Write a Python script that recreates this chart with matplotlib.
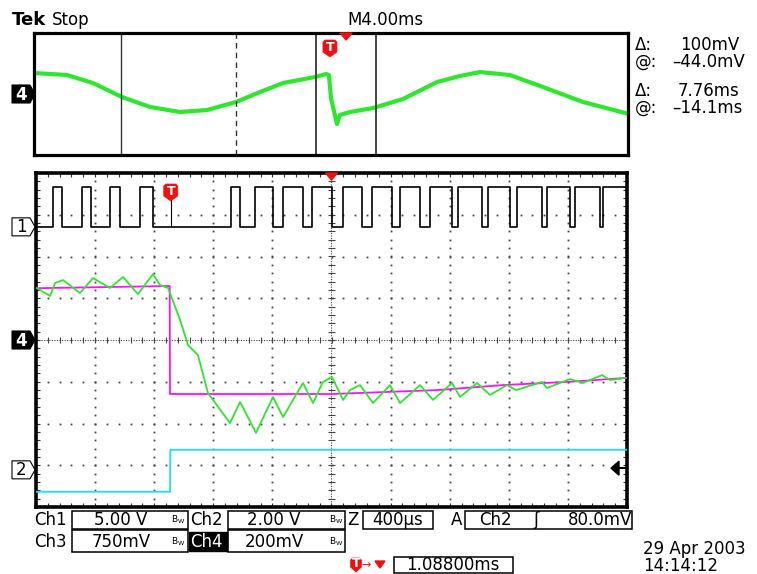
import numpy as np
import matplotlib
matplotlib.use('Agg')
import matplotlib.pyplot as plt
from matplotlib.patches import Polygon, Rectangle

W, H = 757, 574

# ---- scope settings ----
main_us = (-2000, 2000)          # zoomed window, µs (10 div x 400 µs)
record_ms = (-19.93, 20.07)      # full record, ms (10 div x 4 ms)
t_trig = -1088.0                 # trigger position in zoom window, µs
ch_vdiv = {'ch1': 5.0, 'ch2': 2.0, 'ch3': 0.75, 'ch4': 0.2}
ch_pos = {'ch1': 2.71, 'ch2': -3.11, 'ch3': 0.0, 'ch4': 0.0}   # ground, divisions
trig_level = 0.080               # V on ch2
cursor_t = -14.1                 # ms
cursor_dt = 7.76                 # ms

# ---- ch1: pulse train (µs) ----
ch1_rise = [-1885, -1690, -1500, -1295, -680, -520, -330, -130, 80, 275,
            465, 665, 855, 1060, 1255, 1460, 1650, 1840]
ch1_fall = [-1825, -1630, -1430, -1210, -620, -395, -195, 0, 205, 410,
            600, 815, 1020, 1210, 1425, 1615, 1815, 2050]
ch1_high = 4.8

# ---- ch2: step (µs, V) ----
ch2_t = [-2000, -1093, -1091, 2000]
ch2_v = [-1.05, -1.05, 0.96, 0.96]

# ---- ch3: step (µs, V) ----
ch3_t = [-2000, -1095, -1093, 0, 715, 1160, 1615, 2000]
ch3_v = [0.93, 0.97, -0.97, -0.97, -0.90, -0.81, -0.75, -0.68]

# ---- ch4: response (µs, mV) ----
ch4_t = [-1995, -1905, -1871, -1817, -1702, -1614, -1499, -1411, -1310, -1208,
         -1161, -1106, -1025, -971, -904, -836, -687, -619, -511, -396,
         -328, -193, -125, -58, 3, 78, 125, 193, 281, 396,
         464, 599, 687, 816, 870, 985, 1073, 1188, 1249, 1425,
         1458, 1614, 1702, 1831, 1885, 1986]
ch4_mv = [249, 211, 273, 287, 225, 297, 249, 302, 220, 316,
          263, 249, 96, -24, -72, -254, -398, -297, -445, -273,
          -369, -206, -302, -201, -177, -287, -240, -216, -302, -216,
          -302, -216, -287, -206, -273, -206, -263, -216, -240, -201,
          -230, -187, -206, -168, -192, -182]

# ---- ch4 full record (ms, mV) ----
rec_t = [-19.9, -17.71, -15.96, -14.01, -12.12, -10.10, -8.28, -6.33, -4.71, -3.16,
         -1.01, -0.27, -0.07, 0.07, 0.47, 0.67, 1.35, 2.90, 4.92, 7.21,
         8.75, 10.10, 12.12, 14.34, 17.04, 20.0]
rec_mv = [275, 249, 144, -39, -170, -236, -210, -105, 26, 144,
          223, 262, 249, -52, -393, -275, -236, -184, -66, 157,
          236, 288, 249, 92, -105, -255]

GREEN = '#2fe62f'
MAGENTA = '#ff10ff'
CYAN = '#20e0ec'
RED = '#ee1111'

MAIN = (36, 173, 627, 507)
TOP = (34, 33, 628, 155)


def rect(x0, y0, x1, y1):
    return [x0 / W, 1 - y1 / H, (x1 - x0) / W, (y1 - y0) / H]


def main_px(xd, yd):
    x0, y0, x1, y1 = MAIN
    return x0 + (xd + 5) / 10 * (x1 - x0), (y0 + y1) / 2 - yd / 8 * (y1 - y0)


def top_px(t_ms):
    x0, y0, x1, y1 = TOP
    return x0 + (t_ms - record_ms[0]) / (record_ms[1] - record_ms[0]) * (x1 - x0)


fig = plt.figure(figsize=(W / 100, H / 100), dpi=100)
fig.patch.set_facecolor('white')

# ---------------- main graticule ----------------
ax = fig.add_axes(rect(*MAIN))
ax.set_xlim(-5, 5)
ax.set_ylim(-4, 4)
for s in ax.spines.values():
    s.set_linewidth(2.6)
ax.set_xticks(np.arange(-5, 6, 1))
ax.set_yticks(np.arange(-4, 5, 1))
ax.set_xticks(np.arange(-5, 5.01, 0.2), minor=True)
ax.set_yticks(np.arange(-4, 4.01, 0.2), minor=True)
ax.tick_params(which='both', direction='in', length=3, width=0.8,
               top=True, right=True, labelbottom=False, labelleft=False,
               color='#333')

minor_y = np.arange(-4, 4.01, 0.2)
minor_x = np.arange(-5, 5.01, 0.2)
for xv in range(-4, 5):
    if xv == 0:
        continue
    ax.plot(np.full_like(minor_y, xv), minor_y, ls='none', marker='s',
            ms=1.3, mew=0, color='#444')
for yv in range(-3, 4):
    if yv == 0:
        continue
    ax.plot(minor_x, np.full_like(minor_x, yv), ls='none', marker='s',
            ms=1.3, mew=0, color='#444')
ax.axvline(0, color='#444', lw=0.8, ls=(0, (1, 1.3)))
ax.axhline(0, color='#444', lw=0.8, ls=(0, (1, 1.3)))
ax.hlines(minor_y, -0.06, 0.06, color='#444', lw=0.8)
ax.vlines(minor_x, -0.08, 0.08, color='#444', lw=0.8)


def chan_axes(name):
    a = fig.add_axes(rect(*MAIN), frameon=False)
    a.set_xlim(*main_us)
    p, s = ch_pos[name], ch_vdiv[name]
    a.set_ylim((-4 - p) * s, (4 - p) * s)
    a.set_axis_off()
    return a


# ch1 square wave
t1, v1 = [main_us[0]], [0.0]
for r, f in zip(ch1_rise, ch1_fall):
    t1 += [r, r, f, f]
    v1 += [0.0, ch1_high, ch1_high, 0.0]
a1 = chan_axes('ch1')
a1.plot(t1, v1, color='black', lw=1.2)

a2 = chan_axes('ch2')
a2.plot(ch2_t, ch2_v, color=CYAN, lw=1.3)

a3 = chan_axes('ch3')
a3.plot(ch3_t, ch3_v, color=MAGENTA, lw=1.3)

a4 = chan_axes('ch4')
a4.plot(ch4_t, np.array(ch4_mv) / 1000, color=GREEN, lw=1.3)

# ---------------- record view ----------------
axt = fig.add_axes(rect(*TOP))
axt.set_xlim(*record_ms)
axt.set_ylim(-4 * ch_vdiv['ch4'], 4 * ch_vdiv['ch4'])
axt.set_xticks([])
axt.set_yticks([])
for s in axt.spines.values():
    s.set_linewidth(2.3)
axt.plot(rec_t, np.array(rec_mv) / 1000, color=GREEN, lw=3.0, solid_joinstyle='round')
axt.axvline(cursor_t, color='#333', lw=1.0)
axt.axvline(cursor_t + cursor_dt, color='#333', lw=1.0, ls=(0, (4, 3)))
zc = -t_trig / 1000
axt.axvline(zc - 2.0, color='#444', lw=1.4)
axt.axvline(zc + 2.0, color='#444', lw=1.4)

# ---------------- overlay: markers and readouts ----------------
ov = fig.add_axes([0, 0, 1, 1], zorder=10)
ov.set_xlim(0, W)
ov.set_ylim(H, 0)
ov.set_axis_off()


def shield(cx, ytop, w=14, h=17):
    pts = [(cx - w / 2, ytop + 2), (cx - w / 2 + 2, ytop), (cx + w / 2 - 2, ytop),
           (cx + w / 2, ytop + 2), (cx + w / 2, ytop + h - 5), (cx, ytop + h),
           (cx - w / 2, ytop + h - 5)]
    ov.add_patch(Polygon(pts, closed=True, fc=RED, ec=RED, lw=0.5))
    ov.text(cx, ytop + h * 0.42, 'T', color='white', ha='center', va='center',
            fontsize=9, fontweight='bold')


def down_tri(cx, ytop, w=12, h=7):
    ov.add_patch(Polygon([(cx - w / 2, ytop), (cx + w / 2, ytop), (cx, ytop + h)],
                         closed=True, fc=RED, ec=RED))


def ch_marker(label, yc, filled):
    pts = [(12, yc - 9), (30, yc - 9), (35, yc), (30, yc + 9), (12, yc + 9)]
    ov.add_patch(Polygon(pts, closed=True, fc='black' if filled else 'white',
                         ec='black', lw=0.8))
    ov.text(21, yc + 0.5, label, color='white' if filled else 'black',
            ha='center', va='center', fontsize=12,
            fontweight='bold' if filled else 'normal')


# trigger markers
xt, _ = main_px(t_trig / 400, 0)
_, y1g = main_px(0, ch_pos['ch1'])
ov.plot([xt, xt], [200, y1g - 1], color='black', lw=0.8)
shield(xt, 184)
down_tri(main_px(0, 0)[0], 173)
shield(top_px(0), 40)
down_tri(top_px(zc), 33)

# channel ground markers
ch_marker('1', main_px(0, ch_pos['ch1'])[1], False)
ch_marker('4', main_px(0, ch_pos['ch4'])[1], True)
ch_marker('2', main_px(0, ch_pos['ch2'])[1], False)
ch_marker('4', (TOP[1] + TOP[3]) / 2, True)

# trigger level arrow on the right edge
ya = main_px(0, ch_pos['ch2'] + trig_level / ch_vdiv['ch2'])[1]
ov.add_patch(Polygon([(611, ya), (619, ya - 7), (619, ya + 7)], closed=True,
                     fc='black', ec='black'))
ov.plot([619, 627], [ya, ya], color='black', lw=1.5)

FS = 12
ov.text(12, 20, 'Tek', fontsize=13, fontweight='bold', va='center')
ov.text(52, 20, 'Stop', fontsize=FS, va='center')
ov.text(347, 20, 'M4.00ms', fontsize=FS, va='center')

ov.text(635, 45, 'Δ:', fontsize=FS, va='center')
ov.text(680, 45, '100mV', fontsize=FS, va='center')
ov.text(635, 62, '@:', fontsize=FS, va='center')
ov.text(672, 62, '–44.0mV', fontsize=FS, va='center')
ov.text(635, 91, 'Δ:', fontsize=FS, va='center')
ov.text(678, 91, '7.76ms', fontsize=FS, va='center')
ov.text(635, 108, '@:', fontsize=FS, va='center')
ov.text(672, 108, '–14.1ms', fontsize=FS, va='center')


def box(x0, y0, x1, y1):
    ov.add_patch(Rectangle((x0, y0), x1 - x0, y1 - y0, fc='none', ec='black', lw=1.1))


def bw(x, yc):
    ov.text(x, yc, r'$\mathregular{B_W}$', fontsize=6.5, ha='center', va='center')


r1, r2, r3 = 520, 542, 565
ov.text(34, r1, 'Ch1', fontsize=FS, va='center')
box(72, 511, 188, 529)
ov.text(121, r1, '5.00 V', fontsize=FS, ha='center', va='center')
bw(178, r1)
ov.text(190, r1, 'Ch2', fontsize=FS, va='center')
box(228, 511, 345, 529)
ov.text(274, r1, '2.00 V', fontsize=FS, ha='center', va='center')
bw(336, r1)
ov.text(347, r1, 'Z', fontsize=FS, va='center')
box(363, 511, 433, 529)
ov.text(398, r1, '400µs', fontsize=FS, ha='center', va='center')
ov.text(451, r1, 'A', fontsize=FS, va='center')
box(465, 511, 632, 529)
ov.text(495, r1, 'Ch2', fontsize=FS, ha='center', va='center')
ov.text(536, r1, 'ʃ', fontsize=FS, ha='center', va='center')
ov.text(600, r1, '80.0mV', fontsize=FS, ha='center', va='center')

ov.text(34, r2, 'Ch3', fontsize=FS, va='center')
box(72, 530, 188, 552)
ov.text(121, r2, '750mV', fontsize=FS, ha='center', va='center')
bw(178, r2)
ov.add_patch(Rectangle((189, 532), 38, 19, fc='black', ec='black'))
ov.text(190, r2, 'Ch4', fontsize=FS, va='center', color='white')
box(228, 530, 345, 552)
ov.text(274, r2, '200mV', fontsize=FS, ha='center', va='center')
bw(336, r2)

shield(356, 558, w=11, h=14)
ov.text(366, r3, '→', fontsize=8, color=RED, ha='center', va='center')
down_tri(380, 561, w=10, h=7)
box(394, 557, 513, 573)
ov.text(453, r3, '1.08800ms', fontsize=FS, ha='center', va='center')

ov.text(643, 549, '29 Apr 2003', fontsize=FS, va='center')
ov.text(643, 566, '14:14:12', fontsize=FS, va='center')

fig.savefig('out.png', dpi=100)
